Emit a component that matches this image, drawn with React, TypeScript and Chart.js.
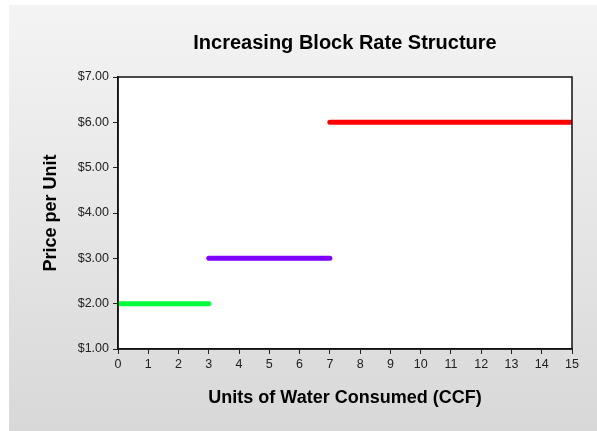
import React, { useEffect, useRef } from "react";
import { Chart, registerables } from "chart.js";

Chart.register(...registerables);

const chartTitle = "Increasing Block Rate Structure";
const xAxisTitle = "Units of Water Consumed (CCF)";
const yAxisTitle = "Price per Unit";

const blockLabels = ["Block 1", "Block 2", "Block 3"];
const blockStarts = [0, 3, 7];
const blockEnds = [3, 7, 15];
const blockPrices = [2, 3, 6];
const blockColors = ["#00ff3c", "#8000ff", "#ff0000"];

const xMin = 0;
const xMax = 15;
const yMin = 1;
const yMax = 7;

const FONT = "'Liberation Sans', Arial, sans-serif";

const backgroundPlugin = {
  id: "bgPlugin",
  beforeDraw(chart: any) {
    const { ctx, width, height, chartArea } = chart;
    ctx.save();
    ctx.fillStyle = "#ffffff";
    ctx.fillRect(0, 0, width, height);
    const g = ctx.createLinearGradient(0, 5, 0, height);
    g.addColorStop(0, "#f4f4f4");
    g.addColorStop(1, "#d8d8d8");
    ctx.fillStyle = g;
    ctx.fillRect(9, 5, width - 9, height - 5);
    ctx.fillStyle = "#ffffff";
    ctx.fillRect(chartArea.left, chartArea.top, chartArea.right - chartArea.left, chartArea.bottom - chartArea.top);
    ctx.restore();
  },
  afterDatasetsDraw(chart: any) {
    const { ctx, chartArea } = chart;
    ctx.save();
    ctx.strokeStyle = "#111111";
    ctx.lineWidth = 1.5;
    ctx.strokeRect(chartArea.left, chartArea.top, chartArea.right - chartArea.left, chartArea.bottom - chartArea.top);
    ctx.restore();
  },
};

export default function App() {
  const ref = useRef<HTMLCanvasElement | null>(null);

  useEffect(() => {
    if (!ref.current) return;
    const datasets = blockLabels.map((label, i) => ({
      label,
      data: [
        { x: blockStarts[i], y: blockPrices[i] },
        { x: blockEnds[i], y: blockPrices[i] },
      ],
      borderColor: blockColors[i],
      backgroundColor: blockColors[i],
      borderWidth: 5,
      borderCapStyle: "round" as const,
      pointRadius: 0,
      fill: false,
      clip: 0,
    }));

    const chart = new Chart(ref.current, {
      type: "line",
      data: { datasets },
      plugins: [backgroundPlugin],
      options: {
        animation: false,
        responsive: false,
        devicePixelRatio: 1,
        layout: { padding: { left: 0, right: 25, top: 0, bottom: 0 } },
        plugins: {
          legend: { display: false },
          tooltip: { enabled: false },
          title: {
            display: true,
            text: chartTitle,
            fullSize: false,
            color: "#000000",
            font: { family: FONT, size: 20, weight: "bold" },
            padding: { top: 31, bottom: 22 },
          },
        },
        scales: {
          x: {
            type: "linear",
            min: xMin,
            max: xMax,
            afterFit(scale: any) {
              scale.height = 82;
            },
            ticks: {
              stepSize: 1,
              color: "#222222",
              font: { family: FONT, size: 12.5 },
              padding: 3,
              maxRotation: 0,
            },
            grid: {
              display: true,
              drawOnChartArea: false,
              drawTicks: true,
              tickLength: 5,
              color: "#222222",
            },
            border: { display: true, color: "#111111", width: 1.5 },
            title: {
              display: true,
              text: xAxisTitle,
              color: "#000000",
              font: { family: FONT, size: 18, weight: "bold" },
              padding: { top: 0, bottom: 22 },
            },
          },
          y: {
            type: "linear",
            min: yMin,
            max: yMax,
            afterFit(scale: any) {
              scale.width = 118;
            },
            ticks: {
              stepSize: 1,
              color: "#222222",
              font: { family: FONT, size: 12.5 },
              padding: 4,
              callback: (v: any) => "$" + Number(v).toFixed(2),
            },
            grid: {
              display: true,
              drawOnChartArea: false,
              drawTicks: true,
              tickLength: 5,
              color: "#222222",
            },
            border: { display: true, color: "#111111", width: 1.5 },
            title: {
              display: true,
              text: yAxisTitle,
              color: "#000000",
              font: { family: FONT, size: 18, weight: "bold" },
              padding: { top: 40, bottom: 0 },
            },
          },
        },
      },
    });
    return () => chart.destroy();
  }, []);

  return (
    <div style={{ position: "fixed", left: 0, top: 0, width: 597, height: 431 }}>
      <canvas ref={ref} width={597} height={431} style={{ width: 597, height: 431, display: "block" }} />
    </div>
  );
}
